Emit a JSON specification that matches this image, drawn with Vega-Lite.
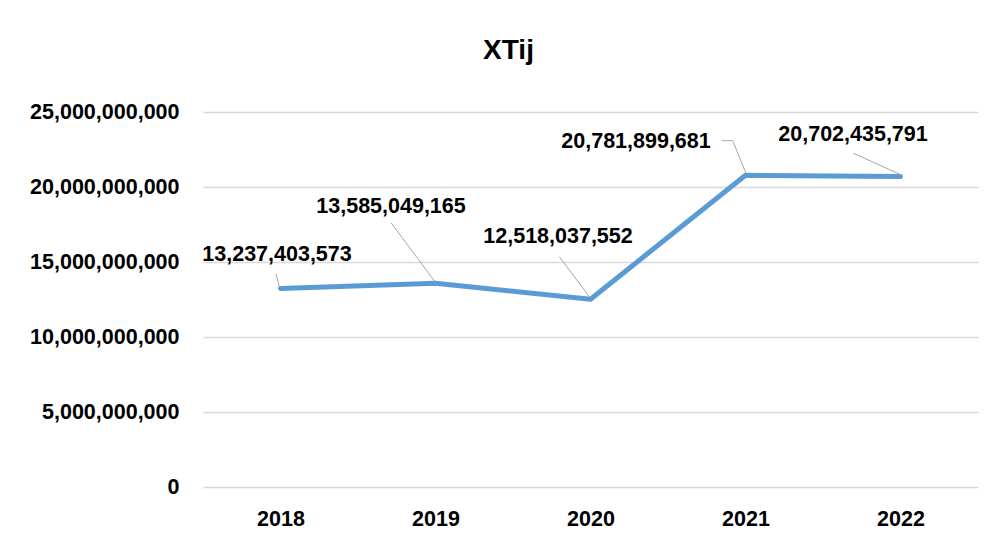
{
  "$schema": "https://vega.github.io/schema/vega-lite/v6.json",
  "width": 775,
  "height": 375,
  "autosize": {"type": "none"},
  "padding": {"left": 203, "top": 112, "right": 17, "bottom": 53},
  "background": "white",
  "title": {
    "text": "XTij",
    "font": "Liberation Sans",
    "fontSize": 28,
    "fontWeight": "bold",
    "color": "#000000",
    "anchor": "middle",
    "frame": "group",
    "dx": -82,
    "baseline": "alphabetic",
    "offset": 14
  },
  "config": {
    "view": {"stroke": null},
    "axis": {
      "labelFont": "Liberation Sans",
      "labelFontSize": 21.5,
      "labelFontWeight": "bold",
      "labelColor": "#000000",
      "domain": false,
      "ticks": false,
      "title": null
    }
  },
  "data": {
    "values": [
      {"year": "2018", "value": 13237403573},
      {"year": "2019", "value": 13585049165},
      {"year": "2020", "value": 12518037552},
      {"year": "2021", "value": 20781899681},
      {"year": "2022", "value": 20702435791}
    ]
  },
  "encoding": {
    "x": {
      "field": "year",
      "type": "ordinal",
      "scale": {"type": "point", "padding": 0.5},
      "axis": {"labelAngle": 0, "labelPadding": 21, "grid": false}
    },
    "y": {
      "field": "value",
      "type": "quantitative",
      "scale": {"domain": [0, 25000000000], "nice": false, "zero": true},
      "axis": {
        "values": [0, 5000000000, 10000000000, 15000000000, 20000000000, 25000000000],
        "format": ",.0f",
        "labelPadding": 24,
        "grid": true,
        "gridColor": "#D9D9D9",
        "gridWidth": 1.3
      }
    }
  },
  "layer": [
    {
      "mark": {"type": "line", "color": "#5B9BD5", "strokeWidth": 5, "strokeCap": "round", "strokeJoin": "round"}
    },
    {
      "transform": [{"filter": "datum.year == '2018'"}],
      "mark": {"type": "rule", "color": "#A6A6A6", "strokeWidth": 1, "xOffset": -4.5, "yOffset": -14.4, "x2Offset": -1, "y2Offset": -1.5},
      "encoding": {"x2": {"field": "year"}, "y2": {"field": "value"}}
    },
    {
      "transform": [{"filter": "datum.year == '2019'"}],
      "mark": {"type": "rule", "color": "#A6A6A6", "strokeWidth": 1, "xOffset": -44.5, "yOffset": -60.5, "x2Offset": -0.5, "y2Offset": -1.5},
      "encoding": {"x2": {"field": "year"}, "y2": {"field": "value"}}
    },
    {
      "transform": [{"filter": "datum.year == '2020'"}],
      "mark": {"type": "rule", "color": "#A6A6A6", "strokeWidth": 1, "xOffset": -31.2, "yOffset": -42.5, "x2Offset": 0, "y2Offset": -1},
      "encoding": {"x2": {"field": "year"}, "y2": {"field": "value"}}
    },
    {
      "transform": [{"filter": "datum.year == '2021'"}],
      "mark": {"type": "rule", "color": "#A6A6A6", "strokeWidth": 1, "xOffset": -23.8, "yOffset": -34.6, "x2Offset": -12.8, "y2Offset": -34.6},
      "encoding": {"x2": {"field": "year"}, "y2": {"field": "value"}}
    },
    {
      "transform": [{"filter": "datum.year == '2021'"}],
      "mark": {"type": "rule", "color": "#A6A6A6", "strokeWidth": 1, "xOffset": -12.8, "yOffset": -34.6, "x2Offset": 0.5, "y2Offset": -2},
      "encoding": {"x2": {"field": "year"}, "y2": {"field": "value"}}
    },
    {
      "transform": [{"filter": "datum.year == '2022'"}],
      "mark": {"type": "rule", "color": "#A6A6A6", "strokeWidth": 1, "xOffset": -47.2, "yOffset": -23.2, "x2Offset": 1, "y2Offset": -1.5},
      "encoding": {"x2": {"field": "year"}, "y2": {"field": "value"}}
    },
    {
      "transform": [{"filter": "datum.year == '2018'"}],
      "mark": {"type": "text", "font": "Liberation Sans", "fontSize": 21.5, "fontWeight": "bold", "color": "#000000", "baseline": "middle", "align": "center", "dx": -3.5, "dy": -33},
      "encoding": {"text": {"field": "value", "type": "quantitative", "format": ",.0f"}}
    },
    {
      "transform": [{"filter": "datum.year == '2019'"}],
      "mark": {"type": "text", "font": "Liberation Sans", "fontSize": 21.5, "fontWeight": "bold", "color": "#000000", "baseline": "middle", "align": "center", "dx": -44.5, "dy": -76.7},
      "encoding": {"text": {"field": "value", "type": "quantitative", "format": ",.0f"}}
    },
    {
      "transform": [{"filter": "datum.year == '2020'"}],
      "mark": {"type": "text", "font": "Liberation Sans", "fontSize": 21.5, "fontWeight": "bold", "color": "#000000", "baseline": "middle", "align": "center", "dx": -32.5, "dy": -62.7},
      "encoding": {"text": {"field": "value", "type": "quantitative", "format": ",.0f"}}
    },
    {
      "transform": [{"filter": "datum.year == '2021'"}],
      "mark": {"type": "text", "font": "Liberation Sans", "fontSize": 21.5, "fontWeight": "bold", "color": "#000000", "baseline": "middle", "align": "center", "dx": -109.5, "dy": -33.3},
      "encoding": {"text": {"field": "value", "type": "quantitative", "format": ",.0f"}}
    },
    {
      "transform": [{"filter": "datum.year == '2022'"}],
      "mark": {"type": "text", "font": "Liberation Sans", "fontSize": 21.5, "fontWeight": "bold", "color": "#000000", "baseline": "middle", "align": "center", "dx": -47.5, "dy": -41},
      "encoding": {"text": {"field": "value", "type": "quantitative", "format": ",.0f"}}
    }
  ]
}
